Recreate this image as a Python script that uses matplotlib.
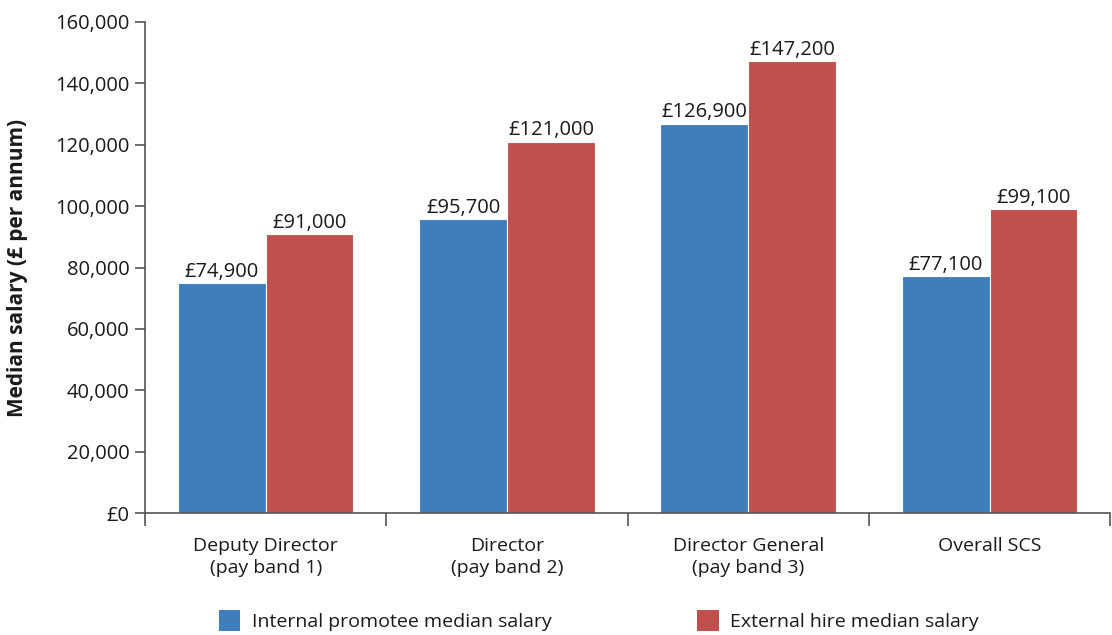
import numpy as np
import matplotlib.pyplot as plt
from matplotlib.ticker import FuncFormatter
from matplotlib.patches import Patch

plt.rcParams["font.family"] = ["Open Sans", "DejaVu Sans"]

categories = ["Deputy Director\n(pay band 1)", "Director\n(pay band 2)",
              "Director General\n(pay band 3)", "Overall SCS"]
internal = [74900, 95700, 126900, 77100]
external = [91000, 121000, 147200, 99100]
series_names = ["Internal promotee median salary", "External hire median salary"]

BLUE = "#417DBB"
RED = "#C0504D"
AXIS = "#555555"
TEXT = "#1a1a1a"

fig = plt.figure(figsize=(11.12, 6.35), dpi=100)
ax = fig.add_axes([0.1304, 0.192, 0.8680, 0.7734])

x = np.arange(len(categories))
w = 0.364
b1 = ax.bar(x - w / 2, internal, w, color=BLUE, edgecolor="white", linewidth=0.8)
b2 = ax.bar(x + w / 2, external, w, color=RED, edgecolor="white", linewidth=0.8)

for bars, vals in ((b1, internal), (b2, external)):
    for rect, v in zip(bars, vals):
        ax.text(rect.get_x() + rect.get_width() / 2, v + 400, f"£{v:,}",
                ha="center", va="bottom", fontsize=14.5, color=TEXT)

ax.set_xlim(-0.5, len(categories) - 0.5)
ax.set_ylim(0, 160000)
ax.set_yticks(np.arange(0, 160001, 20000))
ax.yaxis.set_major_formatter(FuncFormatter(lambda v, _: "£0" if v == 0 else f"{int(v):,}"))

# category labels centred, tick marks at the group boundaries
ax.set_xticks(x)
ax.set_xticklabels(categories, fontsize=14, color=TEXT, linespacing=1.3)
ax.set_xticks(np.arange(-0.5, len(categories)), minor=True)
ax.tick_params(axis="x", which="major", length=0, pad=17)
ax.tick_params(axis="x", which="minor", length=9, width=1.2, color=AXIS, direction="out")
ax.tick_params(axis="y", length=7, width=1.2, color=AXIS, labelsize=14.5,
               labelcolor=TEXT, pad=4)

for s in ("top", "right"):
    ax.spines[s].set_visible(False)
for s in ("left", "bottom"):
    ax.spines[s].set_color(AXIS)
    ax.spines[s].set_linewidth(1.2)

ax.set_ylabel("Median salary (£ per annum)", fontsize=15, fontweight="bold",
              color=TEXT, labelpad=20)

handles = [Patch(facecolor=BLUE), Patch(facecolor=RED)]
fig.legend(handles, series_names, loc="lower left", bbox_to_anchor=(0.181, -0.021),
           ncol=2, frameon=False, fontsize=14, handlelength=1.1, handleheight=1.3,
           columnspacing=7.5, handletextpad=0.6, labelcolor=TEXT)

fig.savefig("out.png", dpi=100)
